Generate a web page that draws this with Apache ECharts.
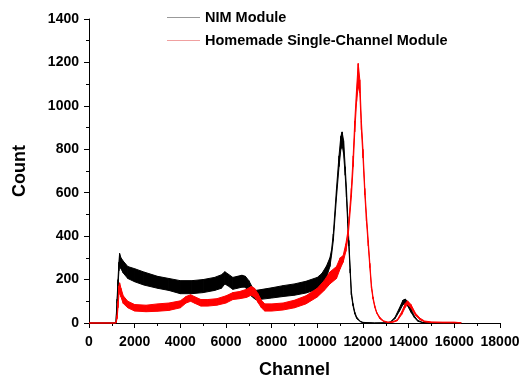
<!DOCTYPE html>
<html>
<head>
<meta charset="utf-8">
<script src="https://cdn.jsdelivr.net/npm/echarts@6/dist/echarts.min.js"></script>
<style>
html,body{margin:0;padding:0;background:#fff;}
#chart{width:521px;height:378px;}
</style>
</head>
<body>
<div id="chart"></div>
<script>
// ---- data (noise band: low / high envelope) ----
const nimChannel = [0,1100,1180,1230,1270,1310,1340,1400,1500,1700,2000,2400,3000,3500,4000,4500,5000,5500,5800,5950,6100,6300,6500,6700,6850,7000,7150,7300,7600,8000,8500,9000,9500,10000,10200,10400,10550,10620,10700,10840,10950,11030,11085,11150,11220,11275,11330,11380,11440,11490,11560,11640,11720,11790,11900,12000,12500,13000,13200,13400,13600,13750,13850,13950,14100,14250,14400,14600,15000,16300];
const nimLow     = [0,0,0,90,170,240,270,250,230,205,190,175,160,150,135,135,140,150,160,180,170,155,160,165,165,140,120,108,110,115,122,128,138,155,172,210,260,310,380,580,720,800,820,780,680,580,460,355,230,130,80,42,22,14,5,1,0,0,3,20,55,85,90,80,50,25,8,2,0,0];
const nimHigh    = [0,0,3,110,200,280,320,300,285,260,250,235,215,205,195,195,200,210,222,236,225,210,215,220,215,195,165,150,155,162,172,180,192,210,228,262,300,335,410,620,770,860,880,840,720,620,490,380,250,145,90,50,28,18,7,3,0,1,5,26,70,105,110,100,65,32,12,3,0,0];

const homeChannel = [0,1100,1180,1230,1270,1310,1340,1400,1500,1700,2000,2500,3000,3500,4000,4250,4450,4650,4900,5200,5600,6000,6300,6600,6900,7100,7250,7400,7550,7700,8000,8500,9000,9500,10000,10300,10550,10840,11000,11130,11250,11350,11490,11570,11640,11720,11790,11860,11930,12000,12080,12150,12230,12300,12370,12440,12515,12600,12735,12900,13100,13300,13500,13700,13850,13950,14100,14300,14500,14700,15000,15500,16000,16300];
const homeLow     = [0,0,0,20,70,130,150,120,90,70,55,52,54,58,70,92,100,90,78,78,82,92,108,112,118,128,120,95,70,55,55,60,70,88,120,150,180,205,250,280,330,400,580,720,880,1020,1090,1060,890,760,590,470,355,255,160,110,72,45,20,7,2,3,10,40,72,85,70,35,15,5,2,1,1,0];
const homeHigh    = [0,0,2,35,100,170,185,160,125,100,85,82,88,92,102,122,130,120,108,108,112,125,140,145,155,168,160,135,105,88,88,92,105,125,160,195,235,260,300,310,365,430,620,770,930,1080,1195,1120,930,800,620,500,380,275,175,120,80,50,26,10,4,6,15,52,90,102,85,45,22,9,5,4,4,1];

const xTicks = {min: 0, max: 18000, interval: 2000};
const yTicks = {min: 0, max: 1400, interval: 200};
const seriesNames = ['NIM Module', 'Homemade Single-Channel Module'];

// ---- build series: a filled band between low and high envelopes ----
function bandSeries(name, color, legendColor, ch, lo, hi){
  const rows = ch.map((c,i)=>[c, lo[i], hi[i]]);
  return {
    name, type:'custom', coordinateSystem:'cartesian2d', silent:true, animation:false,
    itemStyle:{color:legendColor},
    encode:{x:0, y:[1,2]},
    data: rows,
    renderItem(params, api){
      const i = params.dataIndex;
      if (i >= rows.length - 1) return null;
      const a = rows[i], b = rows[i+1];
      const pts = [
        api.coord([a[0], a[1]]), api.coord([b[0], b[1]]),
        api.coord([b[0], b[2]]), api.coord([a[0], a[2]])
      ];
      return {
        type:'polygon',
        shape:{points:pts},
        style:{fill:color, stroke:color, lineWidth:1}
      };
    }
  };
}

const chart = echarts.init(document.getElementById('chart'), null, {renderer:'canvas'});
const font = 'Liberation Sans, Arial, sans-serif';
chart.setOption({
  backgroundColor:'#fff',
  animation:false,
  grid:{left:89, right:21, top:19, bottom:55, containLabel:false, outerBoundsMode:'none'},
  legend:{
    orient:'vertical', left:162, top:5, itemWidth:33, itemHeight:1, itemGap:8,
    icon:'rect',
    textStyle:{fontFamily:font, fontWeight:'bold', fontSize:14.5, color:'#000'},
    data:[
      {name:seriesNames[0], itemStyle:{color:'#999999'}},
      {name:seriesNames[1], itemStyle:{color:'#f0a0a0'}}
    ]
  },
  xAxis:{
    type:'value', min:xTicks.min, max:xTicks.max, interval:xTicks.interval,
    name:'Channel', nameLocation:'middle', nameGap:38,
    nameTextStyle:{fontFamily:font, fontWeight:'bold', fontSize:18, color:'#000'},
    axisLine:{show:true, onZero:false, lineStyle:{color:'#000', width:1}},
    axisTick:{show:true, inside:false, length:5, lineStyle:{color:'#000'}},
    minorTick:{show:true, splitNumber:2, length:3, lineStyle:{color:'#000'}},
    splitLine:{show:false},
    axisLabel:{fontFamily:font, fontWeight:'bold', fontSize:14, color:'#000', margin:12,
      formatter:v=>String(v)}
  },
  yAxis:{
    type:'value', min:yTicks.min, max:yTicks.max, interval:yTicks.interval,
    name:'Count', nameLocation:'middle', nameGap:60,
    nameTextStyle:{fontFamily:font, fontWeight:'bold', fontSize:18, color:'#000'},
    axisLine:{show:true, lineStyle:{color:'#000', width:1}},
    axisTick:{show:true, inside:false, length:5, lineStyle:{color:'#000'}},
    minorTick:{show:true, splitNumber:2, length:3, lineStyle:{color:'#000'}},
    splitLine:{show:false},
    axisLabel:{fontFamily:font, fontWeight:'bold', fontSize:14, color:'#000', margin:10,
      formatter:v=>String(v)}
  },
  series:[
    bandSeries(seriesNames[0], '#000000', '#999999', nimChannel, nimLow, nimHigh),
    bandSeries(seriesNames[1], '#ff0000', '#f0a0a0', homeChannel, homeLow, homeHigh)
  ]
});
</script>
</body>
</html>
